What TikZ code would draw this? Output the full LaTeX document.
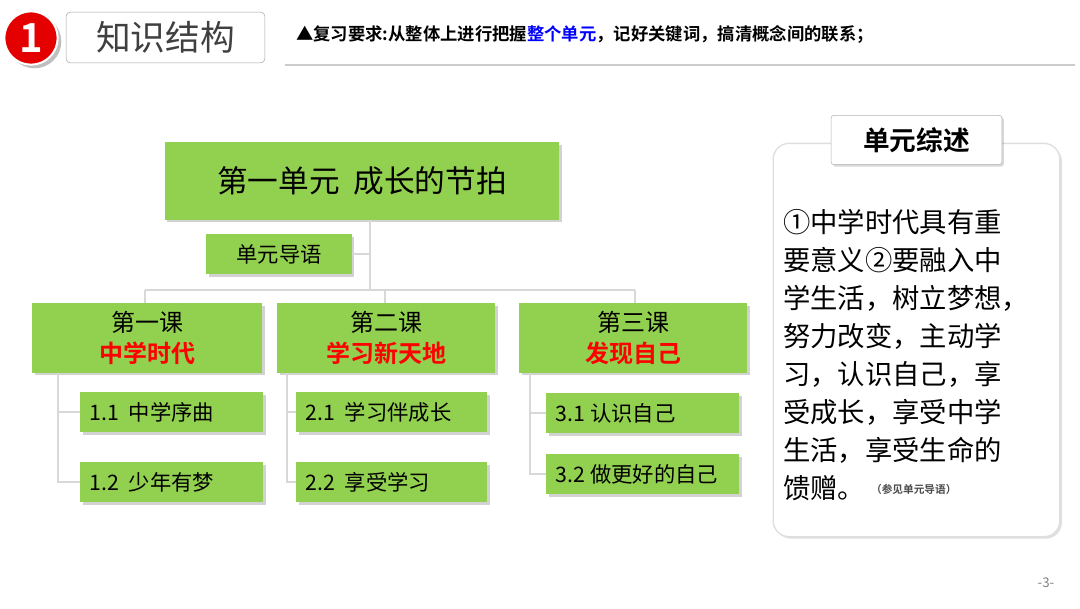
\documentclass[tikz,border=0pt]{standalone}
\usepackage{fontspec}
\setmainfont{Noto Sans CJK SC}
\newfontfamily\cjkb{Noto Sans CJK SC Bold}
\usetikzlibrary{shadows}
\definecolor{gbox}{HTML}{92D050}
\definecolor{lgray}{HTML}{D8D8D8}
\begin{document}
\begin{tikzpicture}[x=0.75pt,y=-0.75pt,
  gb/.style={draw=none,fill=gbox,drop shadow={shadow xshift=2pt,shadow yshift=-2pt,opacity=0.35},inner sep=0pt},
  con/.style={draw=lgray,line width=0.8pt},
  fs/.style={font=\fontsize{#1}{#1}\selectfont}]
\useasboundingbox (0,0) rectangle (1080,608);
\fill[white] (0,0) rectangle (1080,608);
% header
\node[circle,fill=red!90!black,draw=white,line width=1.5pt,minimum size=40pt,drop shadow] (one) at (31,38) {};
\node[text=white,fs=30] at (one) {\cjkb 1};
\node[draw=gray!70,rounded corners=3pt,minimum width=149pt,minimum height=38pt] (tit) at (165.5,37.5) {};
\node[fs=26,text=black!75] at (tit) {知识结构};
\draw[gray!40,line width=1pt] (285,65) -- (1075,65);
\node[anchor=west,fs=13,inner sep=0pt] (req) at (296,35) {\cjkb ▲复习要求:从整体上进行把握\textcolor{blue}{整个单元}，记好关键词，搞清概念间的联系；};
% tree
\node[gb,minimum width=296pt,minimum height=58pt] (main) at (362,181) {};
\node[fs=23] at (main) {第一单元\ \ 成长的节拍};
\node[gb,minimum width=109pt,minimum height=30pt] (dy) at (279,254) {};
\node[fs=16] at (dy) {单元导语};
\foreach \n/\xa/\xb/\t/\r in {l1/32/262/第一课/中学时代,l2/277/495/第二课/学习新天地,l3/519/747/第三课/发现自己}{
  \node[gb,minimum width={(\xb-\xa)*0.75pt},minimum height=52pt] (\n) at ({(\xa+\xb)/2},338) {};
  \node[fs=18,inner sep=0pt] at ({(\xa+\xb)/2},322) {\t};
  \node[fs=18,inner sep=0pt,text=red] at ({(\xa+\xb)/2},353) {\cjkb\r};
}
\foreach \n/\xa/\xb/\y/\t in {s11/80/263/412/1.1\ \ 中学序曲,s12/80/263/482/1.2\ \ 少年有梦,s21/296/487/412/2.1\ \ 学习伴成长,s22/296/487/482/2.2\ \ 享受学习,s31/546/739/413/3.1 认识自己,s32/546/739/474/3.2 做更好的自己}{
  \node[gb,minimum width={(\xb-\xa)*0.75pt},minimum height=30pt] (\n) at ({(\xa+\xb)/2},\y) {};
  \node[fs=16,anchor=west] at ([xshift=4pt]\n.west) {\t};
}
\coordinate (j) at (370,224);
\path[con] (main.south -| j) -- (370,290);
\path[con] (dy.east) -- (dy.east -| j);
\path[con] (145,290) -- (635,290);
\path[con] (145,290) -- (l1.north -| 145,0);
\path[con] (385,290) -- (l2.north -| 385,0);
\path[con] (635,290) -- (l3.north -| 635,0);
\path[con] (l1.south -| 58,0) -- (58,482) -- (s12.west);
\path[con] (58,412) -- (s11.west);
\path[con] (l2.south -| 287,0) -- (287,482) -- (s22.west);
\path[con] (287,412) -- (s21.west);
\path[con] (l3.south -| 530,0) -- (530,474) -- (s32.west);
\path[con] (530,413) -- (s31.west);
% right panel
\node[draw=gray!25,fill=white,rounded corners=12pt,line width=1pt,minimum width=215pt,minimum height=295pt,drop shadow={shadow xshift=1.5pt,shadow yshift=-1.5pt,opacity=0.25}] (pan) at (916.5,340) {};
\node[draw=gray!60,fill=white,rounded corners=2pt,minimum width=128pt,minimum height=37pt,drop shadow={shadow xshift=1.5pt,shadow yshift=-1.5pt,opacity=0.3}] (tab) at (916.5,140) {};
\node[fs=20] at (tab) {\cjkb 单元综述};
\foreach \l [count=\i] in {①中学时代具有重,要意义②要融入中,学生活，树立梦想，,努力改变，主动学,习，认识自己，享,受成长，享受中学,生活，享受生命的}{
  \node[anchor=west,fs=20.5,inner sep=0pt] at (783,{222+(\i-1)*38}) {\l};
}
\node[anchor=west,fs=20.5,inner sep=0pt] (last) at (783,488) {馈赠。};
\node[anchor=west,fs=8,inner sep=0pt,text=black!70] at ([xshift=4pt,yshift=-1pt]last.east) {\cjkb （参见单元导语）};
\node[fs=10,text=gray] (pg) at (1046,583) {-3-};
\end{tikzpicture}
\end{document}
